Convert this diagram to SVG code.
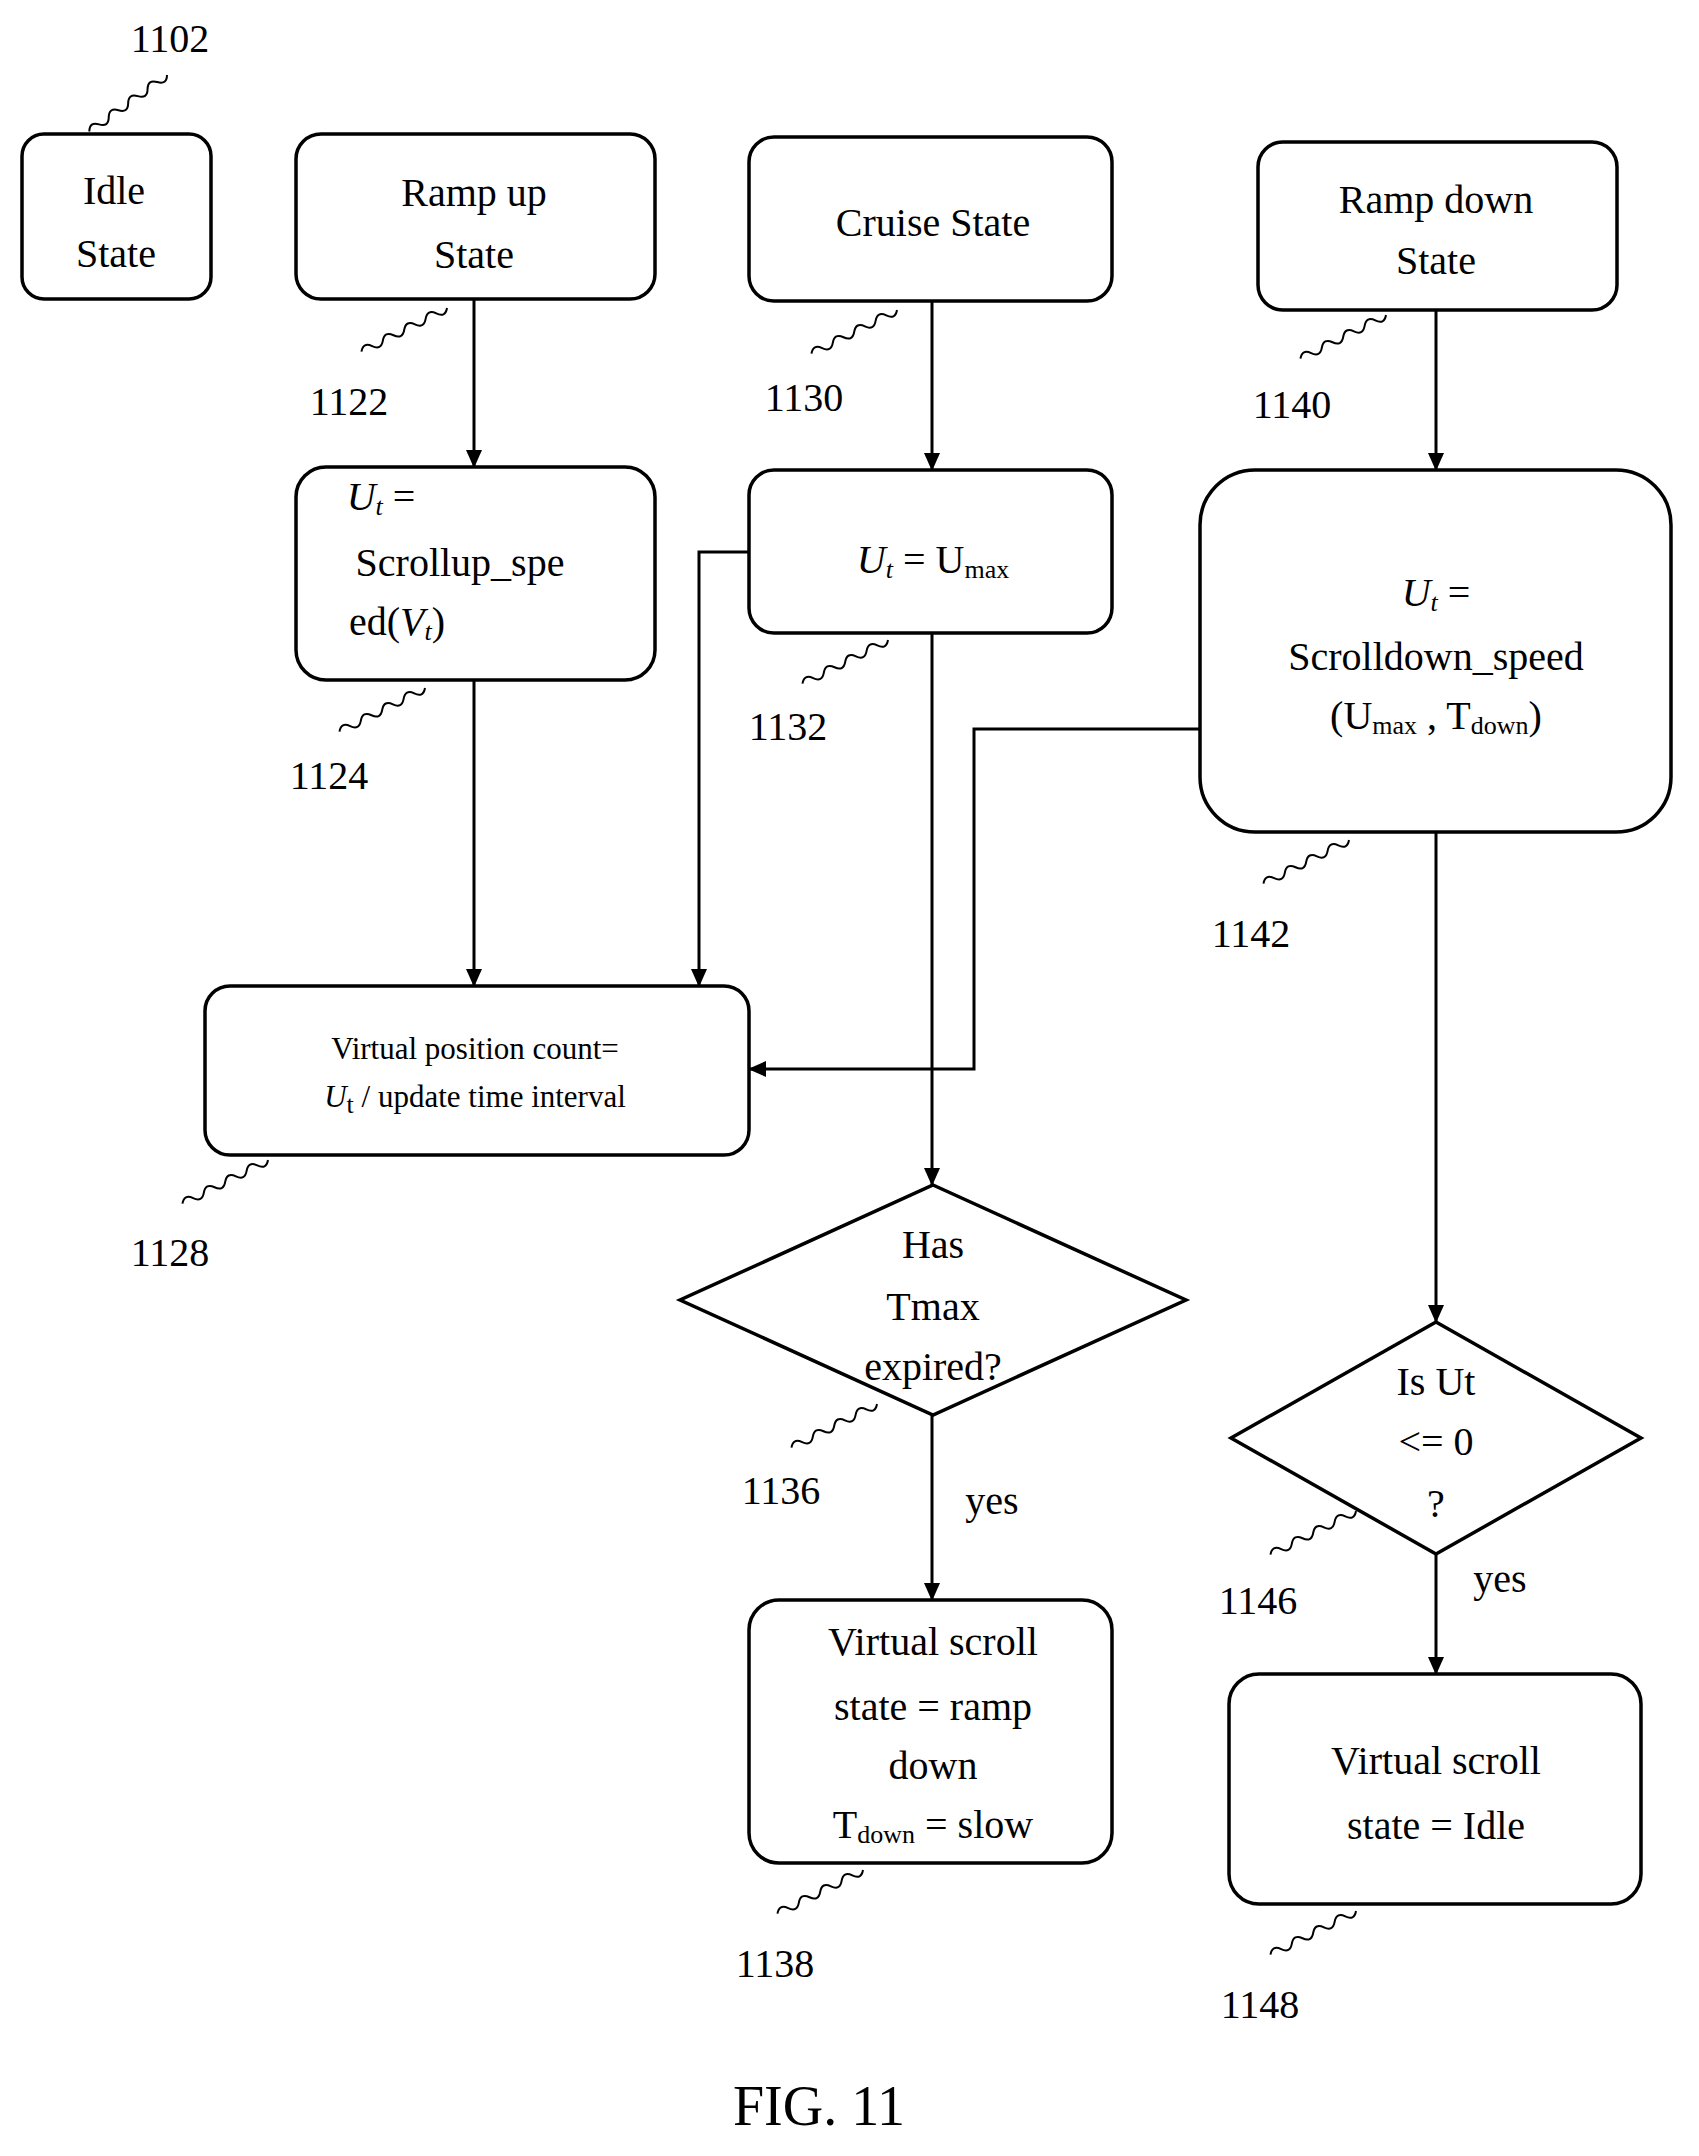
<svg xmlns="http://www.w3.org/2000/svg" width="1699" height="2156" viewBox="0 0 1699 2156">
<style>
.b{fill:#fff;stroke:#000;stroke-width:3.5}
.c{fill:none;stroke:#000;stroke-width:3}
text{font-family:"Liberation Serif",serif;font-size:40px;text-anchor:middle;dominant-baseline:central;fill:#000}
.s{font-size:31px}
.sub{font-size:26px}
.sq{fill:none;stroke:#000;stroke-width:2}
</style>
<defs>
<marker id="a" markerWidth="18" markerHeight="16" refX="17" refY="8" orient="auto" markerUnits="userSpaceOnUse"><path d="M0 0L18 8L0 16z"/></marker>
<path id="q" d="M0 0q6 -8 12 0t12 0t12 0t12 0t12 0t12 0t12 0t12 0"/>
</defs>
<rect width="1699" height="2156" fill="#fff"/>
<g id="connectors">
<path class="c" marker-end="url(#a)" d="M474 299V467"/>
<path class="c" marker-end="url(#a)" d="M474 680V986"/>
<path class="c" marker-end="url(#a)" d="M932 301V470"/>
<path class="c" marker-end="url(#a)" d="M932 633V1185"/>
<path class="c" marker-end="url(#a)" d="M749 552H699V986"/>
<path class="c" marker-end="url(#a)" d="M1436 310V470"/>
<path class="c" marker-end="url(#a)" d="M1200 729H974V1069H749"/>
<path class="c" marker-end="url(#a)" d="M1436 832V1322"/>
<path class="c" marker-end="url(#a)" d="M932 1415V1600"/>
<path class="c" marker-end="url(#a)" d="M1436 1554V1674"/>
<text x="992" y="1500">yes</text>
<text x="1500" y="1578">yes</text>
</g>
<g id="n1102"><rect class="b" x="22" y="134" width="189" height="165" rx="22"/><text x="114" y="190">Idle</text><text x="116" y="253">State</text></g>
<g id="n1122"><rect class="b" x="296" y="134" width="359" height="165" rx="25"/><text x="474" y="192">Ramp  up</text><text x="474" y="254">State</text></g>
<g id="n1130"><rect class="b" x="749" y="137" width="363" height="164" rx="25"/><text x="933" y="222">Cruise  State</text></g>
<g id="n1140"><rect class="b" x="1258" y="142" width="359" height="168" rx="25"/><text x="1436" y="199">Ramp  down</text><text x="1436" y="260">State</text></g>
<g id="n1124"><rect class="b" x="296" y="467" width="359" height="213" rx="30"/><text x="381" y="496"><tspan font-style="italic">U</tspan><tspan class="sub" font-style="italic" dy="10">t</tspan><tspan dy="-10"> =</tspan></text><text x="460" y="562">Scrollup_spe</text><text x="397" y="621">ed(<tspan font-style="italic">V</tspan><tspan class="sub" font-style="italic" dy="10">t</tspan><tspan dy="-10">)</tspan></text></g>
<g id="n1132"><rect class="b" x="749" y="470" width="363" height="163" rx="25"/><text x="933" y="559"><tspan font-style="italic">U</tspan><tspan class="sub" font-style="italic" dy="10">t</tspan><tspan dy="-10"> = U</tspan><tspan class="sub" dy="10">max</tspan></text></g>
<g id="n1142"><rect class="b" x="1200" y="470" width="471" height="362" rx="55"/><text x="1436" y="592"><tspan font-style="italic">U</tspan><tspan class="sub" font-style="italic" dy="10">t</tspan><tspan dy="-10"> =</tspan></text><text x="1436" y="656">Scrolldown_speed</text><text x="1436" y="715">(U<tspan class="sub" dy="10">max</tspan><tspan dy="-10"> , T</tspan><tspan class="sub" dy="10">down</tspan><tspan dy="-10">)</tspan></text></g>
<g id="n1128"><rect class="b" x="205" y="986" width="544" height="169" rx="25" stroke-width="7"/><text class="s" x="475" y="1048">Virtual  position count=</text><text class="s" x="475" y="1096"><tspan font-style="italic">U</tspan><tspan class="sub" dy="8">t</tspan><tspan dy="-8"> / update time  interval</tspan></text></g>
<g id="n1136"><path class="b" d="M933 1185L1186 1300L933 1415L680 1300Z"/><text x="933" y="1244">Has</text><text x="933" y="1306">Tmax</text><text x="933" y="1366">expired?</text></g>
<g id="n1146"><path class="b" d="M1436 1322L1641 1438L1436 1554L1231 1438Z"/><text x="1436" y="1381">Is Ut</text><text x="1436" y="1441">&lt;= 0</text><text x="1436" y="1503">?</text></g>
<g id="n1138"><rect class="b" x="749" y="1600" width="363" height="263" rx="30"/><text x="933" y="1641">Virtual  scroll</text><text x="933" y="1706">state = ramp</text><text x="933" y="1765">down</text><text x="933" y="1824">T<tspan class="sub" dy="10">down</tspan><tspan dy="-10"> = slow</tspan></text></g>
<g id="n1148"><rect class="b" x="1229" y="1674" width="412" height="230" rx="30"/><text x="1436" y="1760">Virtual  scroll</text><text x="1436" y="1825">state = Idle</text></g>
<g id="refs">
<text x="170" y="38">1102</text><use href="#q" class="sq" transform="translate(167 75) rotate(144)"/>
<text x="349" y="401">1122</text><use href="#q" class="sq" transform="translate(447 308) rotate(153)"/>
<text x="804" y="397">1130</text><use href="#q" class="sq" transform="translate(897 310) rotate(153)"/>
<text x="1292" y="404">1140</text><use href="#q" class="sq" transform="translate(1386 315) rotate(153)"/>
<text x="329" y="775">1124</text><use href="#q" class="sq" transform="translate(425 688) rotate(153)"/>
<text x="788" y="726">1132</text><use href="#q" class="sq" transform="translate(888 640) rotate(153)"/>
<text x="1251" y="933">1142</text><use href="#q" class="sq" transform="translate(1349 840) rotate(153)"/>
<text x="170" y="1252">1128</text><use href="#q" class="sq" transform="translate(268 1160) rotate(153)"/>
<text x="781" y="1490">1136</text><use href="#q" class="sq" transform="translate(877 1404) rotate(153)"/>
<text x="1258" y="1600">1146</text><use href="#q" class="sq" transform="translate(1356 1511) rotate(153)"/>
<text x="775" y="1963">1138</text><use href="#q" class="sq" transform="translate(863 1870) rotate(153)"/>
<text x="1260" y="2004">1148</text><use href="#q" class="sq" transform="translate(1356 1911) rotate(153)"/>
</g>
<text x="819" y="2106" style="font-size:56px">FIG. 11</text>
</svg>
